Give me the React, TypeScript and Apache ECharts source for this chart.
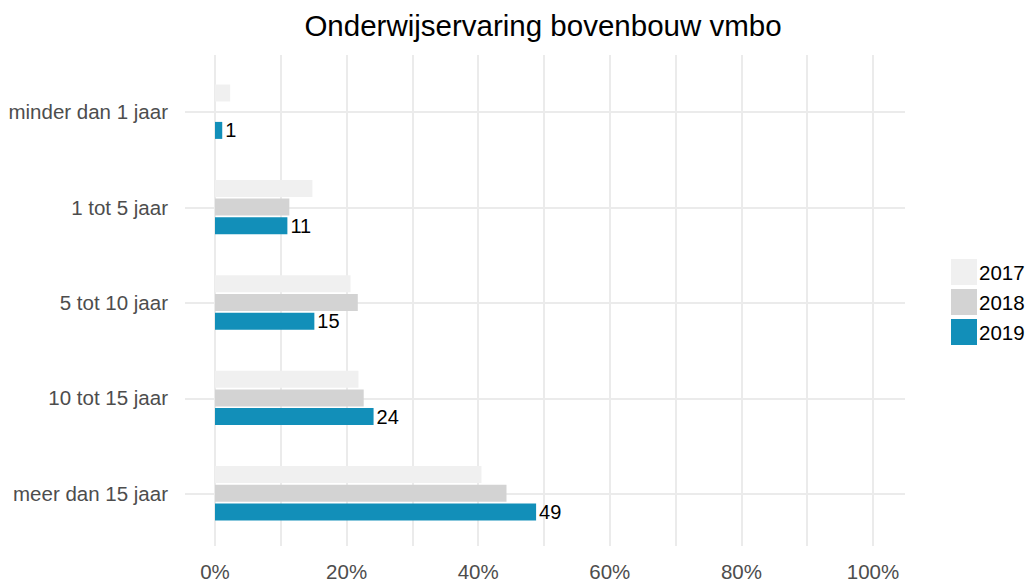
import React, { useEffect, useRef } from "react";
import * as echarts from "echarts";

const categories = ["minder dan 1 jaar", "1 tot 5 jaar", "5 tot 10 jaar", "10 tot 15 jaar", "meer dan 15 jaar"];
const seriesNames = ["2017", "2018", "2019"];
const values2017 = [2.3, 14.8, 20.6, 21.8, 40.5];
const values2018 = [null, 11.3, 21.7, 22.6, 44.3];
const values2019 = [1.1, 11.0, 15.1, 24.1, 48.8];
const seriesColors = ["#f0f0f0", "#d3d3d3", "#128fb9"];
const titleText = "Onderwijservaring bovenbouw vmbo";

const FONT = "'Liberation Sans', Arial, sans-serif";

export default function App() {
  const ref = useRef<HTMLDivElement>(null);
  useEffect(() => {
    if (!ref.current) return;
    const chart = echarts.init(ref.current, null, { renderer: "svg" });
    const valueSets = [values2017, values2018, values2019];
    chart.setOption({
      animation: false,
      backgroundColor: "#ffffff",
      textStyle: { fontFamily: FONT },
      graphic: [
        {
          type: "text",
          x: 543,
          y: 25,
          style: {
            text: titleText,
            fontFamily: FONT,
            fontSize: 29.5,
            fill: "#000000",
            textAlign: "center",
            textVerticalAlign: "middle",
          },
        },
      ],
      legend: {
        data: seriesNames,
        orient: "vertical",
        left: 951,
        top: 259,
        padding: 0,
        itemWidth: 26,
        itemHeight: 26,
        itemGap: 4,
        icon: "rect",
        textStyle: { fontSize: 20.5, color: "#000000", fontFamily: FONT, padding: [0, 0, 0, -3] },
      },
      grid: [
        { left: 215, width: 658, top: 64, height: 477 },
        { left: 215, width: 658, top: 55, height: 495 },
        { left: 185, width: 720, top: 112, height: 382 },
      ],
      xAxis: [
        { gridIndex: 0, type: "value", min: 0, max: 100, show: false },
        {
          gridIndex: 1,
          type: "value",
          min: 0,
          max: 100,
          interval: 20,
          axisLine: { show: false },
          axisTick: { show: false },
          splitLine: { show: true, lineStyle: { color: "#ebebeb", width: 2 } },
          minorTick: { show: false, splitNumber: 2 },
          minorSplitLine: { show: true, lineStyle: { color: "#ebebeb", width: 2 } },
          axisLabel: { formatter: "{value}%", fontSize: 20.5, color: "#4d4d4d", margin: 15, fontFamily: FONT },
        },
        { gridIndex: 2, type: "value", min: 0, max: 1, show: false },
      ],
      yAxis: [
        {
          gridIndex: 0,
          type: "category",
          data: categories,
          inverse: true,
          axisLine: { show: false },
          axisTick: { show: false },
          splitLine: { show: false },
          axisLabel: { fontSize: 20.5, color: "#4d4d4d", margin: 47, interval: 0, fontFamily: FONT },
        },
        { gridIndex: 1, type: "value", min: 0, max: 1, show: false },
        {
          gridIndex: 2,
          type: "category",
          data: categories,
          inverse: true,
          boundaryGap: false,
          axisLine: { show: false },
          axisTick: { show: false },
          axisLabel: { show: false, interval: 0 },
          splitLine: { show: true, interval: 0, lineStyle: { color: "#ebebeb", width: 2 } },
        },
      ],
      series: seriesNames.map((name, i) => ({
        name,
        type: "bar",
        xAxisIndex: 0,
        yAxisIndex: 0,
        data: valueSets[i],
        barWidth: 17,
        barGap: "10%",
        itemStyle: { color: seriesColors[i] },
        label:
          i === 2
            ? {
                show: true,
                position: "right",
                distance: 3,
                fontSize: 20,
                color: "#000000",
                fontFamily: FONT,
                formatter: (p: any) => String(Math.round(p.value)),
              }
            : { show: false },
      })),
    });
    return () => chart.dispose();
  }, []);
  return (
    <div
      ref={ref}
      style={{ position: "fixed", left: 0, top: 0, width: 1033, height: 582, background: "#fff" }}
    />
  );
}
